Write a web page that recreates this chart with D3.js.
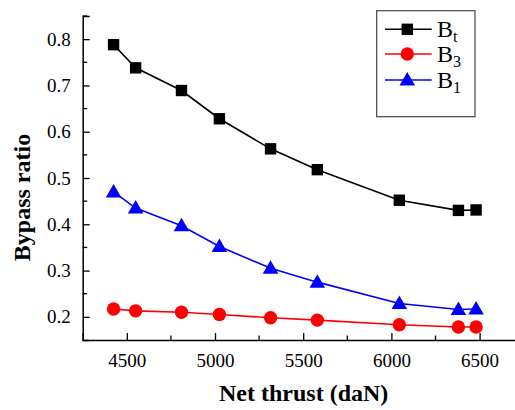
<!DOCTYPE html>
<html><head><meta charset="utf-8">
<script src="https://cdn.jsdelivr.net/npm/d3@7"></script>
</head><body style="margin:0">
<svg id="c" width="515" height="410"></svg>
<script>
const thrust = [4425, 4550, 4810, 5025, 5315, 5580, 6045, 6380, 6480];
const Bt = [0.788, 0.738, 0.689, 0.628, 0.563, 0.518, 0.452, 0.430, 0.431];
const B3 = [0.217, 0.213, 0.210, 0.205, 0.198, 0.193, 0.183, 0.178, 0.178];
const B1 = [0.470, 0.435, 0.397, 0.352, 0.305, 0.275, 0.229, 0.216, 0.217];
const xTicks = [4500, 5000, 5500, 6000, 6500];
const yTicks = [0.2, 0.3, 0.4, 0.5, 0.6, 0.7, 0.8];

const FF = "Times New Roman";
const svg = d3.select("#c");
const L = 82.7, R = 523.7, T = 16, B = 340;
const x = d3.scaleLinear().domain([4250, 6750]).range([L, R]);
const y = d3.scaleLinear().domain([0.15, 0.85]).range([B, T]);
function font(sel, size) {
  return sel.attr("font-family", FF).attr("font-size", size);
}

// axes
const yAxis = svg.append("g").attr("transform", `translate(${L},0)`)
  .call(d3.axisLeft(y).tickValues(yTicks).tickFormat(d3.format(".1f")).tickSize(-7).tickPadding(12));
const xAxis = svg.append("g").attr("transform", `translate(0,${B})`)
  .call(d3.axisBottom(x).tickValues(xTicks).tickFormat(d3.format("d")).tickSize(-7).tickPadding(14));
[yAxis, xAxis].forEach(a => {
  a.attr("font-family", FF).attr("font-size", 19);
  a.select(".domain").attr("stroke", "#000").attr("stroke-width", 1.5);
  a.selectAll(".tick line").attr("stroke", "#000").attr("stroke-width", 1.3);
  font(a.selectAll("text"), 19).attr("fill", "#000");
});
// minor ticks
const yMinor = [0.25, 0.35, 0.45, 0.55, 0.65, 0.75, 0.85];
svg.append("g").selectAll("line").data(yMinor).join("line")
  .attr("x1", L).attr("x2", L + 4.5).attr("y1", d => y(d)).attr("y2", d => y(d))
  .attr("stroke", "#000").attr("stroke-width", 1.3);
const xMinor = [4750, 5250, 5750, 6250];
svg.append("g").selectAll("line").data(xMinor).join("line")
  .attr("y1", B).attr("y2", B - 4.5).attr("x1", d => x(d)).attr("x2", d => x(d))
  .attr("stroke", "#000").attr("stroke-width", 1.3);

// series
const series = [
  {vals: Bt, color: "#000000", shape: d3.symbolSquare, size: 130},
  {vals: B3, color: "#ff0000", shape: d3.symbolCircle, size: 140},
  {vals: B1, color: "#0000ff", shape: d3.symbolTriangle, size: 105},
];
const line = d3.line().x(d => x(d[0])).y(d => y(d[1]));
series.forEach(s => {
  const pts = thrust.map((t, i) => [t, s.vals[i]]);
  svg.append("path").datum(pts).attr("d", line).attr("fill", "none")
    .attr("stroke", s.color).attr("stroke-width", 1.6);
  svg.append("g").selectAll("path").data(pts).join("path")
    .attr("d", d3.symbol().type(s.shape).size(s.size))
    .attr("transform", d => `translate(${x(d[0])},${y(d[1]) + (s.shape === d3.symbolTriangle ? 1 : 0)})`)
    .attr("fill", s.color);
});

// legend
const lg = svg.append("g");
lg.append("rect").attr("x", 376.7).attr("y", 10.7).attr("width", 98.3).attr("height", 106)
  .attr("fill", "#fff").attr("stroke", "#444").attr("stroke-width", 1.2);
const labels = [["B", "t"], ["B", "3"], ["B", "1"]];
const rowsY = [29.3, 54, 80];
series.forEach((s, i) => {
  const yy = rowsY[i];
  lg.append("line").attr("x1", 385).attr("x2", 431.7).attr("y1", yy).attr("y2", yy)
    .attr("stroke", s.color).attr("stroke-width", 1.6);
  lg.append("path").attr("d", d3.symbol().type(s.shape).size(s.size))
    .attr("transform", `translate(407.3,${yy + (s.shape === d3.symbolTriangle ? 1 : 0)})`).attr("fill", s.color);
  const t = font(lg.append("text").attr("x", 437).attr("y", yy + 8), 24).attr("fill", "#000");
  t.append("tspan").text(labels[i][0]);
  t.append("tspan").attr("font-size", 16).attr("dy", 5).text(labels[i][1]);
});

// titles
font(svg.append("text").attr("x", 303.7).attr("y", 401).attr("text-anchor", "middle"), 24)
  .attr("font-weight", "bold").text("Net thrust (daN)");
font(svg.append("text").attr("transform", "translate(30,197.5) rotate(-90)").attr("text-anchor", "middle"), 24)
  .attr("font-weight", "bold").text("Bypass ratio");
</script>
</body></html>
